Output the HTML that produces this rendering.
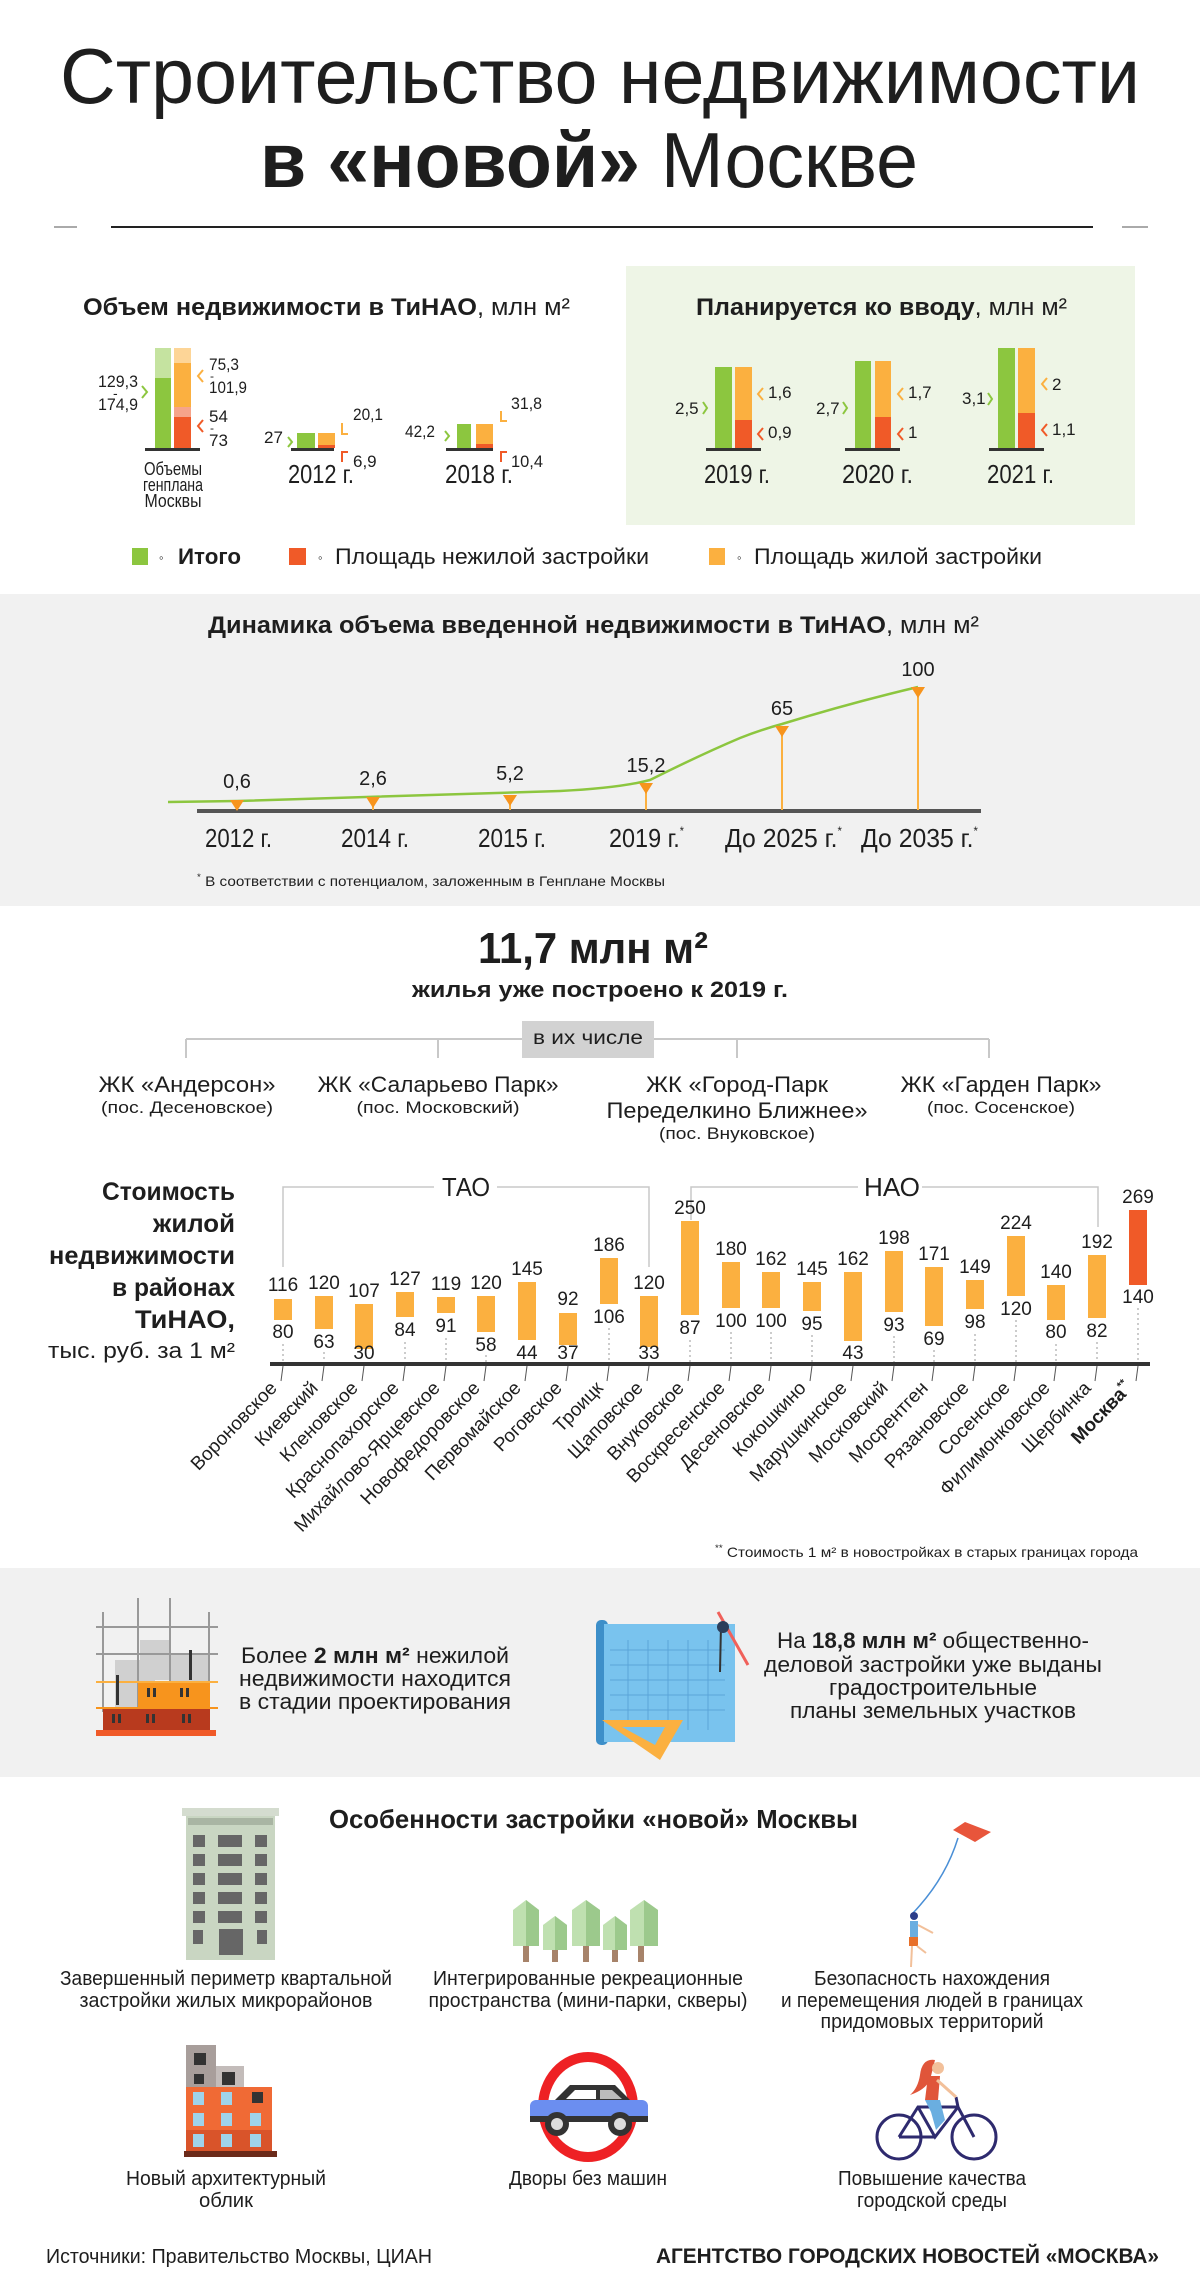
<!DOCTYPE html>
<html><head><meta charset="utf-8"><style>
html,body{margin:0;padding:0;background:#fff}
svg{display:block}
text{font-family:"Liberation Sans","Noto Sans CJK SC",sans-serif;fill:#1e1e1e}
.b{font-weight:bold}
</style></head><body>
<svg width="1200" height="2296" viewBox="0 0 1200 2296" xmlns="http://www.w3.org/2000/svg">
<!-- Title -->
<text x="60" y="103" font-size="78" textLength="1080" lengthAdjust="spacingAndGlyphs">Строительство недвижимости</text>
<text x="260" y="187" font-size="78" textLength="658" lengthAdjust="spacingAndGlyphs"><tspan class="b">в «новой»</tspan> Москве</text>
<rect x="111" y="226" width="982" height="2" fill="#222"/>
<rect x="54" y="226" width="23" height="2" fill="#aaa"/>
<rect x="1122" y="226" width="26" height="2" fill="#aaa"/>

<!-- Section 1 -->
<rect x="626" y="266" width="509" height="259" fill="#eef5e6"/>
<text x="83" y="315" font-size="24" textLength="487" lengthAdjust="spacingAndGlyphs"><tspan class="b">Объем недвижимости в ТиНАО</tspan>, млн м²</text>
<text x="696" y="315" font-size="24" textLength="371" lengthAdjust="spacingAndGlyphs"><tspan class="b">Планируется ко вводу</tspan>, млн м²</text>

<!-- group genplan -->
<rect x="145" y="448" width="55" height="3" fill="#333"/>
<rect x="155" y="348" width="16" height="30" fill="#c5e3a0"/>
<rect x="155" y="378" width="16" height="70" fill="#8cc63f"/>
<rect x="174" y="348" width="17" height="15" fill="#fdd597"/>
<rect x="174" y="363" width="17" height="44" fill="#fbb040"/>
<rect x="174" y="407" width="17" height="10" fill="#f6a48a"/>
<rect x="174" y="417" width="17" height="31" fill="#f05a28"/>
<text x="98" y="387" font-size="17" textLength="40" lengthAdjust="spacingAndGlyphs">129,3</text>
<text x="113" y="398" font-size="14">-</text>
<text x="98" y="410" font-size="17" textLength="40" lengthAdjust="spacingAndGlyphs">174,9</text>
<polyline points="142,386 147,392 142,398" fill="none" stroke="#8cc63f" stroke-width="2"/>
<polyline points="203,370 198,376 203,382" fill="none" stroke="#fbb040" stroke-width="2"/>
<text x="209" y="370" font-size="17" textLength="30" lengthAdjust="spacingAndGlyphs">75,3</text>
<text x="210" y="380" font-size="12">-</text>
<text x="209" y="393" font-size="17" textLength="38" lengthAdjust="spacingAndGlyphs">101,9</text>
<polyline points="203,420 198,426 203,432" fill="none" stroke="#f05a28" stroke-width="2"/>
<text x="209" y="422" font-size="17">54</text>
<text x="210" y="432" font-size="12">-</text>
<text x="209" y="446" font-size="17">73</text>
<text x="173" y="475" font-size="18" text-anchor="middle" textLength="58" lengthAdjust="spacingAndGlyphs">Объемы</text>
<text x="173" y="491" font-size="18" text-anchor="middle" textLength="60" lengthAdjust="spacingAndGlyphs">генплана</text>
<text x="173" y="507" font-size="18" text-anchor="middle" textLength="57" lengthAdjust="spacingAndGlyphs">Москвы</text>

<!-- 2012 -->
<rect x="291" y="448" width="43" height="3" fill="#333"/>
<rect x="297" y="433" width="18" height="15" fill="#8cc63f"/>
<rect x="318" y="433" width="17" height="12" fill="#fbb040"/>
<rect x="318" y="445" width="17" height="3" fill="#f05a28"/>
<text x="264" y="443" font-size="17">27</text>
<polyline points="288,437 292,442 288,447" fill="none" stroke="#8cc63f" stroke-width="2"/>
<polyline points="342,423 342,434 348,434" fill="none" stroke="#fbb040" stroke-width="2"/>
<text x="353" y="420" font-size="17" textLength="30" lengthAdjust="spacingAndGlyphs">20,1</text>
<polyline points="342,462 342,452 348,452" fill="none" stroke="#f05a28" stroke-width="2"/>
<text x="353" y="467" font-size="17">6,9</text>
<text x="288" y="483" font-size="26" textLength="66" lengthAdjust="spacingAndGlyphs">2012 г.</text>

<!-- 2018 -->
<rect x="446" y="448" width="47" height="3" fill="#333"/>
<rect x="457" y="424" width="14" height="24" fill="#8cc63f"/>
<rect x="476" y="424" width="17" height="20" fill="#fbb040"/>
<rect x="476" y="444" width="17" height="4" fill="#f05a28"/>
<text x="405" y="437" font-size="17" textLength="30" lengthAdjust="spacingAndGlyphs">42,2</text>
<polyline points="445,431 449,436 445,441" fill="none" stroke="#8cc63f" stroke-width="2"/>
<polyline points="501,411 501,421 507,421" fill="none" stroke="#fbb040" stroke-width="2"/>
<text x="511" y="409" font-size="17" textLength="31" lengthAdjust="spacingAndGlyphs">31,8</text>
<polyline points="501,462 501,452 507,452" fill="none" stroke="#f05a28" stroke-width="2"/>
<text x="511" y="467" font-size="17" textLength="32" lengthAdjust="spacingAndGlyphs">10,4</text>
<text x="445" y="483" font-size="26" textLength="68" lengthAdjust="spacingAndGlyphs">2018 г.</text>

<!-- 2019 -->
<rect x="706" y="448" width="55" height="3" fill="#333"/>
<rect x="715" y="367" width="17" height="81" fill="#8cc63f"/>
<rect x="735" y="367" width="17" height="53" fill="#fbb040"/>
<rect x="735" y="420" width="17" height="28" fill="#f05a28"/>
<text x="675" y="414" font-size="17">2,5</text>
<polyline points="703,402 707,408 703,414" fill="none" stroke="#8cc63f" stroke-width="2"/>
<polyline points="763,388 758,394 763,400" fill="none" stroke="#fbb040" stroke-width="2"/>
<text x="768" y="398" font-size="17">1,6</text>
<polyline points="763,428 758,434 763,440" fill="none" stroke="#f05a28" stroke-width="2"/>
<text x="768" y="438" font-size="17">0,9</text>
<text x="704" y="483" font-size="26" textLength="66" lengthAdjust="spacingAndGlyphs">2019 г.</text>

<!-- 2020 -->
<rect x="845" y="448" width="55" height="3" fill="#333"/>
<rect x="855" y="361" width="16" height="87" fill="#8cc63f"/>
<rect x="875" y="361" width="16" height="56" fill="#fbb040"/>
<rect x="875" y="417" width="16" height="31" fill="#f05a28"/>
<text x="816" y="414" font-size="17">2,7</text>
<polyline points="843,402 847,408 843,414" fill="none" stroke="#8cc63f" stroke-width="2"/>
<polyline points="903,388 898,394 903,400" fill="none" stroke="#fbb040" stroke-width="2"/>
<text x="908" y="398" font-size="17">1,7</text>
<polyline points="903,428 898,434 903,440" fill="none" stroke="#f05a28" stroke-width="2"/>
<text x="908" y="438" font-size="17">1</text>
<text x="842" y="483" font-size="26" textLength="71" lengthAdjust="spacingAndGlyphs">2020 г.</text>

<!-- 2021 -->
<rect x="989" y="448" width="55" height="3" fill="#333"/>
<rect x="998" y="348" width="17" height="100" fill="#8cc63f"/>
<rect x="1018" y="348" width="17" height="65" fill="#fbb040"/>
<rect x="1018" y="413" width="17" height="35" fill="#f05a28"/>
<text x="962" y="404" font-size="17">3,1</text>
<polyline points="988,393 992,399 988,405" fill="none" stroke="#8cc63f" stroke-width="2"/>
<polyline points="1047,378 1042,384 1047,390" fill="none" stroke="#fbb040" stroke-width="2"/>
<text x="1052" y="390" font-size="17">2</text>
<polyline points="1047,424 1042,430 1047,436" fill="none" stroke="#f05a28" stroke-width="2"/>
<text x="1052" y="435" font-size="17">1,1</text>
<text x="987" y="483" font-size="26" textLength="67" lengthAdjust="spacingAndGlyphs">2021 г.</text>

<!-- legend -->
<rect x="132" y="548" width="16" height="17" fill="#8cc63f"/>
<text x="159" y="562" font-size="13">◦</text>
<text x="178" y="564" font-size="22" class="b" textLength="63" lengthAdjust="spacingAndGlyphs">Итого</text>
<rect x="289" y="548" width="17" height="17" fill="#f05a28"/>
<text x="318" y="562" font-size="13">◦</text>
<text x="335" y="564" font-size="22" textLength="314" lengthAdjust="spacingAndGlyphs">Площадь нежилой застройки</text>
<rect x="709" y="548" width="16" height="17" fill="#fbb040"/>
<text x="737" y="562" font-size="13">◦</text>
<text x="754" y="564" font-size="22" textLength="288" lengthAdjust="spacingAndGlyphs">Площадь жилой застройки</text>

<!-- Section 2: dynamics -->
<rect x="0" y="594" width="1200" height="312" fill="#f1f1f1"/>
<text x="208" y="633" font-size="24" textLength="771" lengthAdjust="spacingAndGlyphs"><tspan class="b">Динамика объема введенной недвижимости в ТиНАО</tspan>, млн м²</text>
<path d="M168,802 L237,801 Q420,796 560,791 Q620,788 650,780 Q700,755 740,738 Q760,730 782,724 Q850,703 918,687" fill="none" stroke="#8cc63f" stroke-width="2.5"/>
<rect x="197" y="809" width="784" height="4" fill="#555"/>
<g stroke="#fbb040" stroke-width="2">
<line x1="237" y1="800" x2="237" y2="810"/><line x1="373" y1="797" x2="373" y2="810"/><line x1="510" y1="795" x2="510" y2="810"/>
<line x1="646" y1="783" x2="646" y2="810"/><line x1="782" y1="726" x2="782" y2="810"/><line x1="918" y1="687" x2="918" y2="810"/>
</g>
<g fill="#f7941d">
<polygon points="230,800 244,800 237,811"/><polygon points="366,797 380,797 373,808"/><polygon points="503,795 517,795 510,806"/>
<polygon points="639,783 653,783 646,794"/><polygon points="775,726 789,726 782,737"/><polygon points="911,687 925,687 918,698"/>
</g>
<g font-size="20" text-anchor="middle">
<text x="237" y="788">0,6</text><text x="373" y="785">2,6</text><text x="510" y="780">5,2</text>
<text x="646" y="772">15,2</text><text x="782" y="715">65</text><text x="918" y="676">100</text>
</g>
<g font-size="26">
<text x="205" y="847" textLength="67" lengthAdjust="spacingAndGlyphs">2012 г.</text>
<text x="341" y="847" textLength="68" lengthAdjust="spacingAndGlyphs">2014 г.</text>
<text x="478" y="847" textLength="68" lengthAdjust="spacingAndGlyphs">2015 г.</text>
<text x="609" y="847" textLength="75" lengthAdjust="spacingAndGlyphs">2019 г.<tspan font-size="12" dy="-12">*</tspan></text>
<text x="725" y="847" textLength="117" lengthAdjust="spacingAndGlyphs">До 2025 г.<tspan font-size="12" dy="-12">*</tspan></text>
<text x="861" y="847" textLength="117" lengthAdjust="spacingAndGlyphs">До 2035 г.<tspan font-size="12" dy="-12">*</tspan></text>
</g>
<text x="197" y="886" font-size="14" textLength="468" lengthAdjust="spacingAndGlyphs"><tspan font-size="9" dy="-6">*</tspan><tspan dy="6"> В соответствии с потенциалом, заложенным в Генплане Москвы</tspan></text>

<!-- Section 3 -->
<text x="593" y="963" font-size="44" class="b" text-anchor="middle" textLength="230" lengthAdjust="spacingAndGlyphs">11,7 млн м²</text>
<text x="600" y="997" font-size="22" class="b" text-anchor="middle" textLength="376" lengthAdjust="spacingAndGlyphs">жилья уже построено к 2019 г.</text>
<g stroke="#c8c8c8" stroke-width="2" fill="none">
<line x1="186" y1="1039" x2="989" y2="1039"/>
<line x1="186" y1="1039" x2="186" y2="1058"/><line x1="438" y1="1039" x2="438" y2="1058"/>
<line x1="737" y1="1039" x2="737" y2="1058"/><line x1="989" y1="1039" x2="989" y2="1058"/>
</g>
<rect x="522" y="1021" width="132" height="37" fill="#d2d2d2"/>
<text x="588" y="1044" font-size="19" text-anchor="middle" textLength="110" lengthAdjust="spacingAndGlyphs">в их числе</text>
<g font-size="22" text-anchor="middle">
<text x="187" y="1092" textLength="177" lengthAdjust="spacingAndGlyphs">ЖК «Андерсон»</text>
<text x="438" y="1092" textLength="241" lengthAdjust="spacingAndGlyphs">ЖК «Саларьево Парк»</text>
<text x="737" y="1092" textLength="182" lengthAdjust="spacingAndGlyphs">ЖК «Город-Парк</text>
<text x="737" y="1118" textLength="261" lengthAdjust="spacingAndGlyphs">Переделкино Ближнее»</text>
<text x="1001" y="1092" textLength="201" lengthAdjust="spacingAndGlyphs">ЖК «Гарден Парк»</text>
</g>
<g font-size="17" text-anchor="middle">
<text x="187" y="1113" textLength="172" lengthAdjust="spacingAndGlyphs">(пос. Десеновское)</text>
<text x="438" y="1113" textLength="163" lengthAdjust="spacingAndGlyphs">(пос. Московский)</text>
<text x="737" y="1139" textLength="156" lengthAdjust="spacingAndGlyphs">(пос. Внуковское)</text>
<text x="1001" y="1113" textLength="148" lengthAdjust="spacingAndGlyphs">(пос. Сосенское)</text>
</g>

<!-- Price chart -->
<g font-size="25" class="b" text-anchor="end">
<text x="235" y="1200" textLength="133" lengthAdjust="spacingAndGlyphs">Стоимость</text>
<text x="235" y="1232" textLength="82" lengthAdjust="spacingAndGlyphs">жилой</text>
<text x="235" y="1264" textLength="186" lengthAdjust="spacingAndGlyphs">недвижимости</text>
<text x="235" y="1296" textLength="123" lengthAdjust="spacingAndGlyphs">в районах</text>
<text x="235" y="1328" textLength="100" lengthAdjust="spacingAndGlyphs">ТиНАО,</text>
</g>
<text x="235" y="1358" font-size="22" text-anchor="end" textLength="187" lengthAdjust="spacingAndGlyphs">тыс. руб. за 1 м²</text>
<g stroke="#c8c8c8" stroke-width="1.5" fill="none">
<polyline points="283,1267 283,1187 434,1187"/><polyline points="497,1187 649,1187 649,1267"/>
<polyline points="691,1220 691,1187 858,1187"/><polyline points="922,1187 1098,1187 1098,1227"/>
</g>
<text x="466" y="1196" font-size="26" text-anchor="middle" textLength="48" lengthAdjust="spacingAndGlyphs">ТАО</text>
<text x="892" y="1196" font-size="26" text-anchor="middle" textLength="56" lengthAdjust="spacingAndGlyphs">НАО</text>
<rect x="270" y="1362" width="880" height="4" fill="#333"/>
<g stroke="#999" stroke-width="1" stroke-dasharray="2,3">
<line x1="283" y1="1344" x2="283" y2="1362"/><line x1="324" y1="1352" x2="324" y2="1362"/>
<line x1="405" y1="1342" x2="405" y2="1362"/><line x1="446" y1="1338" x2="446" y2="1362"/>
<line x1="486" y1="1355" x2="486" y2="1362"/><line x1="609" y1="1328" x2="609" y2="1362"/>
<line x1="690" y1="1340" x2="690" y2="1362"/><line x1="731" y1="1332" x2="731" y2="1362"/>
<line x1="771" y1="1332" x2="771" y2="1362"/><line x1="812" y1="1335" x2="812" y2="1362"/>
<line x1="894" y1="1336" x2="894" y2="1362"/><line x1="934" y1="1350" x2="934" y2="1362"/>
<line x1="975" y1="1334" x2="975" y2="1362"/><line x1="1016" y1="1320" x2="1016" y2="1362"/>
<line x1="1056" y1="1344" x2="1056" y2="1362"/><line x1="1097" y1="1342" x2="1097" y2="1362"/>
<line x1="1138" y1="1308" x2="1138" y2="1362"/>
</g>
<g fill="#fbb040">
<rect x="274" y="1299" width="18" height="21"/>
<rect x="315" y="1296" width="18" height="33"/>
<rect x="355" y="1304" width="18" height="45"/>
<rect x="396" y="1292" width="18" height="25"/>
<rect x="437" y="1297" width="18" height="16"/>
<rect x="477" y="1296" width="18" height="36"/>
<rect x="518" y="1282" width="18" height="58"/>
<rect x="559" y="1313" width="18" height="32"/>
<rect x="600" y="1258" width="18" height="46"/>
<rect x="640" y="1296" width="18" height="51"/>
<rect x="681" y="1221" width="18" height="94"/>
<rect x="722" y="1262" width="18" height="46"/>
<rect x="762" y="1272" width="18" height="36"/>
<rect x="803" y="1282" width="18" height="29"/>
<rect x="844" y="1272" width="18" height="69"/>
<rect x="885" y="1251" width="18" height="61"/>
<rect x="925" y="1267" width="18" height="59"/>
<rect x="966" y="1280" width="18" height="29"/>
<rect x="1007" y="1236" width="18" height="60"/>
<rect x="1047" y="1285" width="18" height="35"/>
<rect x="1088" y="1255" width="18" height="63"/>
</g>
<rect x="1129" y="1210" width="18" height="75" fill="#f05a28"/>
<g font-size="19" text-anchor="middle">
<text x="283" y="1291">116</text><text x="283" y="1338">80</text>
<text x="324" y="1289">120</text><text x="324" y="1348">63</text>
<text x="364" y="1297">107</text><text x="364" y="1359">30</text>
<text x="405" y="1285">127</text><text x="405" y="1336">84</text>
<text x="446" y="1290">119</text><text x="446" y="1332">91</text>
<text x="486" y="1289">120</text><text x="486" y="1351">58</text>
<text x="527" y="1275">145</text><text x="527" y="1359">44</text>
<text x="568" y="1305">92</text><text x="568" y="1359">37</text>
<text x="609" y="1251">186</text><text x="609" y="1323">106</text>
<text x="649" y="1289">120</text><text x="649" y="1359">33</text>
<text x="690" y="1214">250</text><text x="690" y="1334">87</text>
<text x="731" y="1255">180</text><text x="731" y="1327">100</text>
<text x="771" y="1265">162</text><text x="771" y="1327">100</text>
<text x="812" y="1275">145</text><text x="812" y="1330">95</text>
<text x="853" y="1265">162</text><text x="853" y="1359">43</text>
<text x="894" y="1244">198</text><text x="894" y="1331">93</text>
<text x="934" y="1260">171</text><text x="934" y="1345">69</text>
<text x="975" y="1273">149</text><text x="975" y="1328">98</text>
<text x="1016" y="1229">224</text><text x="1016" y="1315">120</text>
<text x="1056" y="1278">140</text><text x="1056" y="1338">80</text>
<text x="1097" y="1248">192</text><text x="1097" y="1337">82</text>
<text x="1138" y="1203">269</text><text x="1138" y="1303">140</text>
</g>
<g stroke="#555" stroke-width="1">
<line x1="283" y1="1366" x2="281" y2="1381"/><line x1="324" y1="1366" x2="322" y2="1381"/><line x1="364" y1="1366" x2="362" y2="1381"/>
<line x1="405" y1="1366" x2="403" y2="1381"/><line x1="446" y1="1366" x2="444" y2="1381"/><line x1="486" y1="1366" x2="484" y2="1381"/>
<line x1="527" y1="1366" x2="525" y2="1381"/><line x1="568" y1="1366" x2="566" y2="1381"/><line x1="609" y1="1366" x2="607" y2="1381"/>
<line x1="649" y1="1366" x2="647" y2="1381"/><line x1="690" y1="1366" x2="688" y2="1381"/><line x1="731" y1="1366" x2="729" y2="1381"/>
<line x1="771" y1="1366" x2="769" y2="1381"/><line x1="812" y1="1366" x2="810" y2="1381"/><line x1="853" y1="1366" x2="851" y2="1381"/>
<line x1="894" y1="1366" x2="892" y2="1381"/><line x1="934" y1="1366" x2="932" y2="1381"/><line x1="975" y1="1366" x2="973" y2="1381"/>
<line x1="1016" y1="1366" x2="1014" y2="1381"/><line x1="1056" y1="1366" x2="1054" y2="1381"/><line x1="1097" y1="1366" x2="1095" y2="1381"/>
<line x1="1138" y1="1366" x2="1136" y2="1381"/>
</g>
<g font-size="19" text-anchor="end">
<text transform="translate(278,1389) rotate(-46)">Вороновское</text>
<text transform="translate(319,1389) rotate(-46)">Киевский</text>
<text transform="translate(359,1389) rotate(-46)">Кленовское</text>
<text transform="translate(400,1389) rotate(-46)">Краснопахорское</text>
<text transform="translate(441,1389) rotate(-46)">Михайлово-Ярцевское</text>
<text transform="translate(481,1389) rotate(-46)">Новофедоровское</text>
<text transform="translate(522,1389) rotate(-46)">Первомайское</text>
<text transform="translate(563,1389) rotate(-46)">Роговское</text>
<text transform="translate(604,1389) rotate(-46)">Троицк</text>
<text transform="translate(644,1389) rotate(-46)">Щаповское</text>
<text transform="translate(685,1389) rotate(-46)">Внуковское</text>
<text transform="translate(726,1389) rotate(-46)">Воскресенское</text>
<text transform="translate(766,1389) rotate(-46)">Десеновское</text>
<text transform="translate(807,1389) rotate(-46)">Кокошкино</text>
<text transform="translate(848,1389) rotate(-46)">Марушкинское</text>
<text transform="translate(889,1389) rotate(-46)">Московский</text>
<text transform="translate(929,1389) rotate(-46)">Мосрентген</text>
<text transform="translate(970,1389) rotate(-46)">Рязановское</text>
<text transform="translate(1011,1389) rotate(-46)">Сосенское</text>
<text transform="translate(1051,1389) rotate(-46)">Филимонковское</text>
<text transform="translate(1092,1389) rotate(-46)">Щербинка</text>
<text transform="translate(1133,1389) rotate(-46)" class="b">Москва<tspan font-size="11" dy="-8">**</tspan></text>
</g>
<text x="715" y="1557" font-size="14" textLength="423" lengthAdjust="spacingAndGlyphs"><tspan font-size="9" dy="-6">**</tspan><tspan dy="6"> Стоимость 1 м² в новостройках в старых границах города</tspan></text>

<!-- Section 4 gray band -->
<rect x="0" y="1568" width="1200" height="209" fill="#f1f1f1"/>
<!-- construction icon -->
<rect x="115" y="1660" width="40" height="50" fill="#d0d0d0"/>
<rect x="140" y="1640" width="30" height="40" fill="#d0d0d0"/>
<rect x="170" y="1655" width="40" height="30" fill="#d0d0d0"/>
<g stroke="#999" stroke-width="2">
<line x1="103" y1="1612" x2="103" y2="1712"/><line x1="138" y1="1598" x2="138" y2="1712"/>
<line x1="170" y1="1598" x2="170" y2="1712"/><line x1="209" y1="1612" x2="209" y2="1712"/>
<line x1="96" y1="1627" x2="218" y2="1627"/><line x1="96" y1="1654" x2="218" y2="1654"/>
</g>
<rect x="138" y="1682" width="72" height="27" fill="#f7941d"/>
<rect x="96" y="1681" width="122" height="2" fill="#fbb040"/>
<rect x="103" y="1709" width="107" height="22" fill="#b83a1e"/>
<rect x="96" y="1707" width="122" height="2" fill="#f7941d"/>
<rect x="96" y="1730" width="120" height="6" fill="#f05a28"/>
<g fill="#333">
<rect x="147" y="1688" width="3" height="9"/><rect x="153" y="1688" width="3" height="9"/><rect x="180" y="1688" width="3" height="9"/><rect x="186" y="1688" width="3" height="9"/>
<rect x="112" y="1714" width="3" height="9"/><rect x="118" y="1714" width="3" height="9"/><rect x="146" y="1714" width="3" height="9"/><rect x="152" y="1714" width="3" height="9"/><rect x="182" y="1714" width="3" height="9"/><rect x="188" y="1714" width="3" height="9"/>
<rect x="116" y="1675" width="3" height="30"/><rect x="189" y="1650" width="3" height="30"/>
</g>
<g font-size="22" text-anchor="middle">
<text x="375" y="1663" textLength="268" lengthAdjust="spacingAndGlyphs">Более <tspan class="b">2 млн м²</tspan> нежилой</text>
<text x="375" y="1686" textLength="272" lengthAdjust="spacingAndGlyphs">недвижимости находится</text>
<text x="375" y="1709" textLength="272" lengthAdjust="spacingAndGlyphs">в стадии проектирования</text>
</g>
<!-- blueprint icon -->
<rect x="596" y="1620" width="12" height="125" rx="5" fill="#3d8fc9"/>
<rect x="604" y="1624" width="131" height="118" fill="#79c3ee"/>
<g stroke="#5aa5d8" stroke-width="1">
<line x1="610" y1="1650" x2="725" y2="1650"/><line x1="610" y1="1665" x2="725" y2="1665"/><line x1="610" y1="1680" x2="725" y2="1680"/><line x1="610" y1="1695" x2="725" y2="1695"/><line x1="610" y1="1710" x2="725" y2="1710"/>
<line x1="628" y1="1640" x2="628" y2="1730"/><line x1="648" y1="1640" x2="648" y2="1730"/><line x1="668" y1="1640" x2="668" y2="1730"/><line x1="688" y1="1640" x2="688" y2="1730"/><line x1="708" y1="1640" x2="708" y2="1730"/>
</g>
<polygon points="602,1720 683,1720 660,1760" fill="#fbb040"/>
<polygon points="622,1727 665,1727 655,1745" fill="#79c3ee"/>
<line x1="718" y1="1612" x2="748" y2="1665" stroke="#f0605a" stroke-width="3"/>
<line x1="721" y1="1625" x2="720" y2="1672" stroke="#333" stroke-width="2"/>
<circle cx="723" cy="1627" r="6" fill="#2c3e5a"/>
<g font-size="22" text-anchor="middle">
<text x="933" y="1648" textLength="312" lengthAdjust="spacingAndGlyphs">На <tspan class="b">18,8 млн м²</tspan> общественно-</text>
<text x="933" y="1672" textLength="338" lengthAdjust="spacingAndGlyphs">деловой застройки уже выданы</text>
<text x="933" y="1695" textLength="208" lengthAdjust="spacingAndGlyphs">градостроительные</text>
<text x="933" y="1718" textLength="286" lengthAdjust="spacingAndGlyphs">планы земельных участков</text>
</g>

<!-- Section 5 -->
<text x="329" y="1828" font-size="26" class="b" textLength="529" lengthAdjust="spacingAndGlyphs">Особенности застройки «новой» Москвы</text>
<!-- building 1 -->
<rect x="182" y="1808" width="97" height="8" fill="#d4dccf"/>
<rect x="186" y="1816" width="89" height="144" fill="#c9d6c2"/>
<rect x="188" y="1818" width="85" height="7" fill="#a9b5a3"/>
<g fill="#666">
<rect x="193" y="1835" width="12" height="12"/><rect x="218" y="1835" width="24" height="12"/><rect x="255" y="1835" width="12" height="12"/>
<rect x="193" y="1854" width="12" height="12"/><rect x="218" y="1854" width="24" height="12"/><rect x="255" y="1854" width="12" height="12"/>
<rect x="193" y="1873" width="12" height="12"/><rect x="218" y="1873" width="24" height="12"/><rect x="255" y="1873" width="12" height="12"/>
<rect x="193" y="1892" width="12" height="12"/><rect x="218" y="1892" width="24" height="12"/><rect x="255" y="1892" width="12" height="12"/>
<rect x="193" y="1911" width="12" height="12"/><rect x="218" y="1911" width="24" height="12"/><rect x="255" y="1911" width="12" height="12"/>
<rect x="193" y="1930" width="10" height="14"/><rect x="219" y="1929" width="24" height="26"/><rect x="257" y="1930" width="10" height="14"/>
</g>
<!-- trees -->
<g fill="#a7836a">
<rect x="523" y="1942" width="6" height="20"/><rect x="552" y="1946" width="6" height="16"/><rect x="583" y="1942" width="6" height="20"/><rect x="612" y="1946" width="6" height="16"/><rect x="638" y="1942" width="6" height="20"/>
</g>
<g fill="#bfe0b0">
<polygon points="513,1910 526,1900 539,1910 539,1946 513,1946"/>
<polygon points="543,1925 555,1916 567,1925 567,1950 543,1950"/>
<polygon points="572,1910 586,1900 600,1910 600,1946 572,1946"/>
<polygon points="603,1925 615,1916 627,1925 627,1950 603,1950"/>
<polygon points="630,1910 644,1900 658,1910 658,1946 630,1946"/>
</g>
<g fill="#9cc98c">
<polygon points="526,1900 539,1910 539,1946 526,1946"/><polygon points="555,1916 567,1925 567,1950 555,1950"/>
<polygon points="586,1900 600,1910 600,1946 586,1946"/><polygon points="615,1916 627,1925 627,1950 615,1950"/><polygon points="644,1900 658,1910 658,1946 644,1946"/>
</g>
<!-- kite -->
<polygon points="953,1830 965,1822 991,1832 975,1842" fill="#e8553b"/>
<path d="M958,1838 Q945,1880 912,1914" fill="none" stroke="#4a8fd6" stroke-width="1.5"/>
<circle cx="914" cy="1916" r="4" fill="#2c3e8a"/>
<rect x="910" y="1921" width="8" height="16" fill="#6aaee0"/>
<rect x="909" y="1937" width="9" height="9" fill="#e8702a"/>
<line x1="912" y1="1946" x2="911" y2="1967" stroke="#f2c09a" stroke-width="2"/>
<line x1="917" y1="1946" x2="926" y2="1953" stroke="#f2c09a" stroke-width="2"/>
<line x1="918" y1="1925" x2="933" y2="1933" stroke="#f2c09a" stroke-width="2"/>
<g font-size="20" text-anchor="middle">
<text x="226" y="1985" textLength="332" lengthAdjust="spacingAndGlyphs">Завершенный периметр квартальной</text>
<text x="226" y="2007" textLength="293" lengthAdjust="spacingAndGlyphs">застройки жилых микрорайонов</text>
<text x="588" y="1985" textLength="310" lengthAdjust="spacingAndGlyphs">Интегрированные рекреационные</text>
<text x="588" y="2007" textLength="319" lengthAdjust="spacingAndGlyphs">пространства (мини-парки, скверы)</text>
<text x="932" y="1985" textLength="236" lengthAdjust="spacingAndGlyphs">Безопасность нахождения</text>
<text x="932" y="2007" textLength="302" lengthAdjust="spacingAndGlyphs">и перемещения людей в границах</text>
<text x="932" y="2028" textLength="223" lengthAdjust="spacingAndGlyphs">придомовых территорий</text>
</g>
<!-- building 2 -->
<rect x="186" y="2045" width="30" height="42" fill="#a89e9b"/>
<rect x="216" y="2066" width="28" height="28" fill="#c3bcba"/>
<rect x="244" y="2087" width="28" height="22" fill="#c9c9c9"/>
<rect x="186" y="2087" width="86" height="64" fill="#f06a35"/>
<rect x="186" y="2130" width="86" height="21" fill="#d9542a"/>
<rect x="184" y="2151" width="93" height="6" fill="#6b2a1a"/>
<g fill="#333"><rect x="194" y="2053" width="12" height="12"/><rect x="194" y="2074" width="10" height="10"/><rect x="222" y="2072" width="13" height="13"/><rect x="252" y="2092" width="11" height="11"/></g>
<g fill="#9fd3ea">
<rect x="193" y="2092" width="11" height="13"/><rect x="221" y="2092" width="11" height="13"/>
<rect x="193" y="2113" width="11" height="13"/><rect x="221" y="2113" width="11" height="13"/><rect x="250" y="2113" width="11" height="13"/>
<rect x="193" y="2134" width="11" height="13"/><rect x="221" y="2134" width="11" height="13"/><rect x="250" y="2134" width="11" height="13"/>
</g>
<!-- no cars -->
<ellipse cx="588" cy="2107" rx="45" ry="50" fill="none" stroke="#ee2124" stroke-width="10"/>
<path d="M555,2100 L570,2085 L615,2085 L630,2100 Z" fill="#333"/>
<path d="M575,2090 L596,2090 L596,2099 L566,2099 Z" fill="#fff"/>
<path d="M600,2090 L612,2090 L622,2099 L600,2099 Z" fill="#bbb"/>
<rect x="530" y="2100" width="118" height="22" rx="6" fill="#6b8ef0"/>
<rect x="530" y="2116" width="118" height="6" fill="#333"/>
<circle cx="557" cy="2124" r="12" fill="#333"/><circle cx="557" cy="2124" r="6" fill="#ddd"/>
<circle cx="620" cy="2124" r="12" fill="#333"/><circle cx="620" cy="2124" r="6" fill="#ddd"/>
<!-- bike -->
<g fill="none" stroke="#2e2a6e" stroke-width="3">
<circle cx="899" cy="2137" r="22"/><circle cx="974" cy="2137" r="22"/>
<polyline points="899,2137 918,2107 958,2107 974,2137"/>
<polyline points="918,2107 935,2137 958,2107"/>
<line x1="899" y1="2137" x2="935" y2="2137"/>
<line x1="958" y1="2107" x2="956" y2="2097"/>
</g>
<path d="M935,2060 Q922,2058 920,2075 Q918,2088 910,2095 Q925,2090 930,2080 Z" fill="#e0553a"/>
<circle cx="938" cy="2068" r="6" fill="#f2c09a"/>
<path d="M928,2076 L940,2076 L938,2100 L925,2100 Z" fill="#e0553a"/>
<path d="M925,2100 L940,2100 L945,2120 L936,2130 L931,2112 Z" fill="#6aaee0"/>
<line x1="937" y1="2080" x2="956" y2="2097" stroke="#f2c09a" stroke-width="3"/>
<g font-size="20" text-anchor="middle">
<text x="226" y="2185" textLength="200" lengthAdjust="spacingAndGlyphs">Новый архитектурный</text>
<text x="226" y="2207" textLength="54" lengthAdjust="spacingAndGlyphs">облик</text>
<text x="588" y="2185" textLength="158" lengthAdjust="spacingAndGlyphs">Дворы без машин</text>
<text x="932" y="2185" textLength="188" lengthAdjust="spacingAndGlyphs">Повышение качества</text>
<text x="932" y="2207" textLength="150" lengthAdjust="spacingAndGlyphs">городской среды</text>
</g>
<text x="46" y="2263" font-size="20" textLength="386" lengthAdjust="spacingAndGlyphs">Источники: Правительство Москвы, ЦИАН</text>
<text x="656" y="2263" font-size="21" class="b" textLength="503" lengthAdjust="spacingAndGlyphs">АГЕНТСТВО ГОРОДСКИХ НОВОСТЕЙ «МОСКВА»</text>
</svg>
</body></html>
